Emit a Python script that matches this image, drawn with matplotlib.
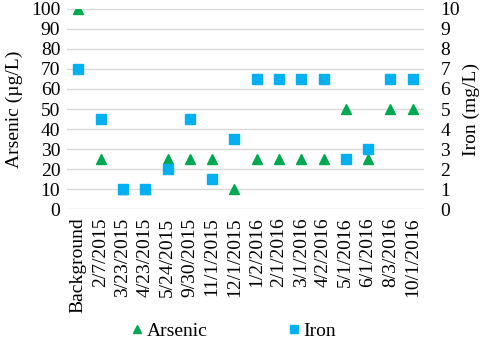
import matplotlib.pyplot as plt
import numpy as np

plt.rcParams['font.family'] = ['Liberation Serif', 'DejaVu Serif']

dates = ['Background', '2/7/2015', '3/23/2015', '4/23/2015', '5/24/2015', '9/30/2015',
         '11/1/2015', '12/1/2015', '1/2/2016', '2/1/2016', '3/1/2016', '4/2/2016',
         '5/1/2016', '6/1/2016', '8/3/2016', '10/1/2016']
arsenic = [100, 25, 10, 10, 25, 25, 25, 10, 25, 25, 25, 25, 50, 25, 50, 50]
iron = [7, 4.5, 1, 1, 2, 4.5, 1.5, 3.5, 6.5, 6.5, 6.5, 6.5, 2.5, 3, 6.5, 6.5]

fig = plt.figure(figsize=(4.8, 3.49), dpi=100)
ax = fig.add_axes([0.14, 0.40, 0.743, 0.575])
ax2 = ax.twinx()

x = np.arange(len(dates))
la, = ax.plot(x, arsenic, linestyle='none', marker='^', color='#00A84F', markersize=7, label='Arsenic', zorder=3)
li, = ax2.plot(x, iron, linestyle='none', marker='s', color='#00B0F0', markersize=6.5, label='Iron', zorder=3)

ax.set_ylim(0, 100)
ax.set_yticks(range(0, 101, 10))
ax2.set_ylim(0, 10)
ax2.set_yticks(range(0, 11))
ax.set_xlim(-0.5, len(dates) - 0.5)
ax.set_xticks(x)
ax.set_xticklabels(dates, rotation=90, fontsize=14)
ax.grid(axis='y', color='#d9d9d9', linewidth=1)
ax.set_axisbelow(True)

for a in (ax, ax2):
    for s in a.spines.values():
        s.set_visible(False)
    a.tick_params(length=0, labelsize=14)
ax.tick_params(axis='y', pad=5)
ax.tick_params(axis='x', pad=6)
ax2.tick_params(axis='y', pad=12)

ax.set_ylabel('Arsenic (µg/L)', fontsize=14, labelpad=6)
ax2.set_ylabel('Iron (mg/L)', fontsize=14, labelpad=2)

fig.legend([la, li], ['Arsenic', 'Iron'], loc='lower center', ncol=2, frameon=False,
           bbox_to_anchor=(0.487, -0.025), fontsize=14, handlelength=0.6,
           handletextpad=0.2, columnspacing=4.13, markerscale=0.9)

fig.savefig('out.png', dpi=100)
